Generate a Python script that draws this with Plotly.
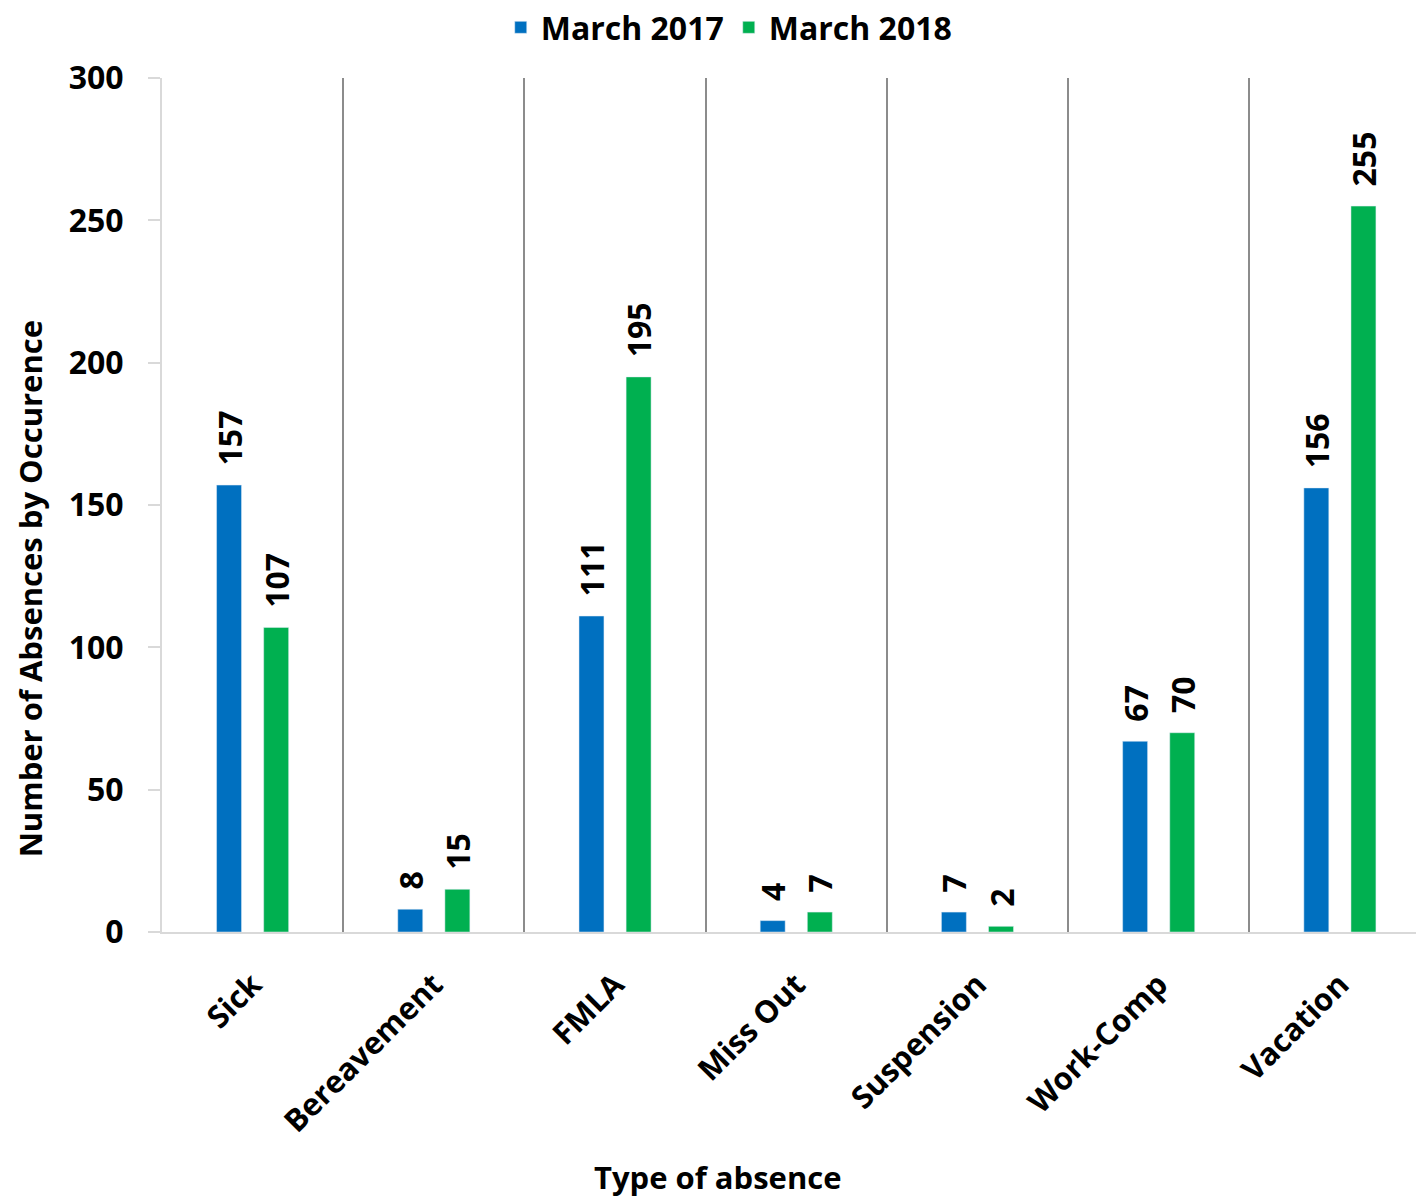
import plotly.graph_objects as go

categories = ["Sick", "Bereavement", "FMLA", "Miss Out", "Suspension", "Work-Comp", "Vacation"]
march_2017 = [157, 8, 111, 4, 7, 67, 156]
march_2018 = [107, 15, 195, 7, 2, 70, 255]
y_ticks = [0, 50, 100, 150, 200, 250, 300]

FONT = "'Open Sans', Lato, sans-serif"
BLUE = "#0070C0"
GREEN = "#00B050"
PAD = "\u00a0\u00a0"

fig = go.Figure()
for name, vals, color in [("March 2017", march_2017, BLUE), ("March 2018", march_2018, GREEN)]:
    fig.add_trace(go.Bar(
        x=categories, y=vals, name=name, marker_color=color,
        text=[PAD + str(v) for v in vals], textposition="outside", textangle=-90,
        textfont=dict(family=FONT, size=32, color="black", weight="bold"),
        constraintext="none", cliponaxis=False,
    ))

fig.update_layout(
    width=1416, height=1197,
    margin=dict(l=162, r=0, t=78, b=265),
    paper_bgcolor="white", plot_bgcolor="white",
    barmode="group", bargap=0.48, bargroupgap=0.47,
    font=dict(family=FONT, size=31, color="black", weight="bold"),
    showlegend=True,
    legend=dict(orientation="h", xref="container", x=0.515, xanchor="center",
                yref="container", y=1.0, yanchor="top",
                font=dict(family=FONT, size=32, color="black", weight="bold"),
                itemwidth=30, tracegroupgap=0),
    xaxis=dict(type="category", range=[-0.5, 6.42], tickson="boundaries",
               showgrid=True, gridcolor="#8c8c8c", gridwidth=1.5,
               showline=True, linecolor="#d9d9d9", linewidth=2,
               ticks="", tickangle=-45, ticklabelstandoff=20,
               tickfont=dict(family=FONT, size=31, color="black", weight="bold")),
    yaxis=dict(range=[0, 300], tickvals=y_ticks, showgrid=False, zeroline=False,
               showline=True, linecolor="#d9d9d9", linewidth=2,
               ticks="outside", ticklen=12, tickcolor="#d9d9d9", tickwidth=2,
               ticklabelstandoff=18,
               tickfont=dict(family=FONT, size=32, color="black", weight="bold")),
    annotations=[
        dict(text="Number of Absences by Occurence", textangle=-90,
             xref="paper", yref="paper", x=-0.105, y=0.4016,
             xanchor="center", yanchor="middle", showarrow=False,
             font=dict(family=FONT, size=31, color="black", weight="bold")),
        dict(text="Type of absence",
             xref="paper", yref="paper", x=0.4434, y=-0.287,
             xanchor="center", yanchor="middle", showarrow=False,
             font=dict(family=FONT, size=31, color="black", weight="bold")),
    ],
)

fig.write_html("out.html")
